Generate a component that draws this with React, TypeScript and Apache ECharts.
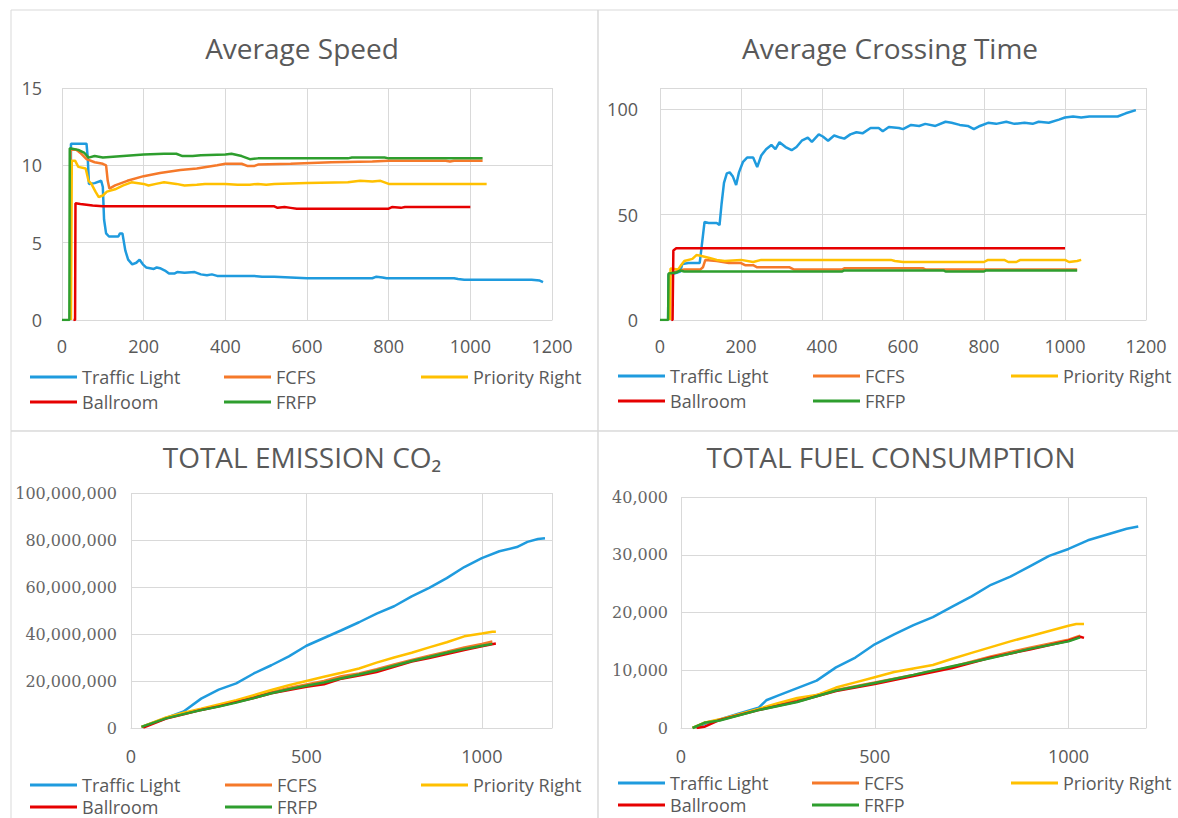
import React, { useEffect, useRef } from "react";
import * as echarts from "echarts";

// ---------- Series names & colours ----------
const seriesNames = ["Traffic Light", "FCFS", "Priority Right", "Ballroom", "FRFP"];
const seriesColors = ["#1F9BDE", "#F5792A", "#FFC000", "#E60000", "#2E9E2E"];

// ---------- Panel titles ----------
const titles = ["Average Speed", "Average Crossing Time", "TOTAL EMISSION CO\u2082", "TOTAL FUEL CONSUMPTION"];

// ---------- Average Speed ----------
const speedTraffic = [[20,0],[22,11.4],[60,11.4],[63,10.5],[66,8.8],[80,8.85],[96,9.0],[100,8.6],[103,6.5],[108,5.6],[115,5.4],[138,5.4],[142,5.6],[148,5.6],[155,4.5],[162,3.9],[172,3.6],[182,3.7],[190,3.9],[198,3.6],[206,3.4],[225,3.3],[232,3.4],[240,3.35],[252,3.2],[262,3.0],[275,3.0],[282,3.1],[300,3.05],[325,3.1],[340,2.95],[355,2.9],[367,2.95],[380,2.85],[400,2.85],[470,2.85],[490,2.8],[520,2.8],[560,2.75],[600,2.7],[700,2.7],[760,2.7],[770,2.8],[785,2.75],[795,2.7],[960,2.7],[970,2.65],[985,2.6],[1150,2.6],[1170,2.55],[1178,2.45]];
const speedFcfs = [[20,0],[21,11.0],[35,11.0],[45,10.8],[60,10.4],[80,10.2],[100,10.1],[108,10.0],[112,9.0],[116,8.5],[130,8.7],[160,9.0],[200,9.3],[240,9.5],[290,9.7],[330,9.8],[380,10.0],[400,10.1],[440,10.1],[455,9.95],[470,9.95],[480,10.05],[560,10.1],[660,10.2],[760,10.25],[800,10.3],[940,10.3],[950,10.25],[960,10.3],[1030,10.3]];
const speedPriority = [[22,0],[24,10.3],[32,10.3],[40,9.9],[58,9.8],[65,9.0],[72,8.8],[82,8.3],[90,7.95],[100,8.05],[110,8.3],[130,8.45],[150,8.7],[170,8.9],[200,8.8],[212,8.7],[230,8.8],[250,8.9],[280,8.8],[300,8.7],[330,8.75],[350,8.8],[400,8.8],[430,8.75],[460,8.75],[480,8.8],[500,8.75],[520,8.8],[600,8.85],[700,8.9],[730,9.0],[760,8.95],[780,9.0],[800,8.8],[1040,8.8]];
const speedBallroom = [[28,0],[32,0],[33,7.55],[45,7.5],[60,7.45],[75,7.4],[100,7.35],[520,7.35],[528,7.25],[545,7.3],[560,7.25],[575,7.2],[800,7.2],[808,7.3],[830,7.25],[840,7.3],[1000,7.3]];
const speedFrfp = [[0,0],[18,0],[19,11.1],[40,11.0],[55,10.8],[65,10.5],[80,10.6],[100,10.5],[150,10.6],[200,10.7],[250,10.75],[280,10.75],[295,10.6],[320,10.6],[340,10.65],[400,10.7],[415,10.75],[440,10.6],[460,10.4],[480,10.45],[700,10.45],[710,10.5],[790,10.5],[800,10.45],[1030,10.45]];

// ---------- Average Crossing Time ----------
const crossTraffic = [[20,0],[21,21.5],[35,22],[50,23],[55,26.5],[70,27],[98,27],[103,35],[110,46.5],[120,46],[140,46],[147,45],[152,55],[158,65],[165,69.5],[172,70],[180,68],[188,64],[195,70],[205,75],[215,77],[230,77],[240,72.5],[250,78],[262,81],[275,83],[285,81],[295,84.3],[310,82],[325,80.5],[337,82],[350,85],[365,86.5],[375,84.5],[392,88],[402,87],[415,85],[430,87.5],[445,86.5],[455,86],[470,88],[485,89],[500,88.5],[520,91],[540,91],[550,89.5],[565,91.5],[590,91],[600,90.5],[620,92.5],[640,92],[655,93],[680,92],[705,94],[720,93.5],[740,92.5],[760,92],[775,90.5],[790,92],[810,93.5],[830,93],[855,94],[875,93],[900,93.5],[920,93],[935,94],[960,93.5],[985,95],[1000,96],[1020,96.5],[1040,96],[1060,96.5],[1130,96.5],[1150,98],[1175,99.5]];
const crossFcfs = [[22,0],[23,22],[40,23],[60,24],[100,24],[106,25],[112,28.5],[140,28],[170,27],[200,27],[210,26],[230,26],[240,25],[320,25],[330,24],[450,24],[455,24.5],[650,24.5],[655,24],[1030,24]];
const crossPriority = [[25,0],[26,24.4],[45,24],[52,26],[60,28],[80,29],[90,30.8],[100,30.5],[120,29.5],[140,28.5],[160,28],[200,28.5],[230,27.5],[250,28.5],[570,28.5],[580,28],[600,27.5],[800,27.5],[810,28.5],[850,28.5],[860,27.5],[880,27.5],[890,28.5],[1000,28.5],[1010,27.5],[1030,28],[1040,28.5]];
const crossBallroom = [[28,0],[31,0],[33,33],[40,34],[1000,34]];
const crossFrfp = [[0,0],[20,0],[21,22],[40,22.5],[50,23.5],[60,23],[450,23],[455,23.5],[700,23.5],[705,23],[800,23],[805,23.5],[1030,23.5]];

// ---------- Total Emission CO2 ----------
const co2Traffic = [[30,0.5e6],[100,4.3e6],[150,7e6],[200,12.5e6],[250,16.3e6],[300,19e6],[350,23.2e6],[400,26.7e6],[450,30.5e6],[500,35e6],[550,38.3e6],[600,41.6e6],[650,45e6],[700,48.7e6],[750,51.8e6],[800,56e6],[850,59.6e6],[900,63.8e6],[950,68.5e6],[1000,72.3e6],[1050,75.2e6],[1100,77e6],[1130,79.2e6],[1160,80.4e6],[1180,80.7e6]];
const co2Fcfs = [[30,0.4e6],[100,4.2e6],[150,6.2e6],[200,7.8e6],[250,9.5e6],[300,11.2e6],[350,13.2e6],[400,15.2e6],[450,17e6],[500,18.5e6],[550,20e6],[600,22e6],[650,23.2e6],[700,25e6],[750,27e6],[800,29e6],[850,30.8e6],[900,32.5e6],[950,34.3e6],[1000,35.8e6],[1030,36.8e6]];
const co2Priority = [[30,0.5e6],[100,4.5e6],[150,6.5e6],[200,8.2e6],[250,10e6],[300,11.8e6],[350,14e6],[400,16.2e6],[450,18.2e6],[500,20e6],[550,21.8e6],[600,23.5e6],[650,25.3e6],[700,27.8e6],[750,30e6],[800,32e6],[850,34.3e6],[900,36.5e6],[950,39e6],[1000,40.2e6],[1030,41e6],[1040,41e6]];
const co2Ballroom = [[35,0.2e6],[100,4e6],[150,5.8e6],[200,7.7e6],[250,9.2e6],[300,11e6],[350,12.8e6],[400,14.8e6],[450,16.2e6],[500,17.5e6],[550,18.6e6],[600,21e6],[650,22.3e6],[700,23.8e6],[750,26e6],[800,28.3e6],[850,29.8e6],[900,31.5e6],[950,33.2e6],[1000,34.8e6],[1040,36e6]];
const co2Frfp = [[30,0.5e6],[100,4.1e6],[150,5.9e6],[200,7.6e6],[250,9.1e6],[300,10.8e6],[350,12.7e6],[400,14.8e6],[450,16.5e6],[500,18e6],[550,19.4e6],[600,21.2e6],[650,22.8e6],[700,24.5e6],[750,26.5e6],[800,28.5e6],[850,30.2e6],[900,32e6],[950,33.6e6],[1000,35e6],[1030,35.8e6]];

// ---------- Total Fuel Consumption ----------
const fuelTraffic = [[30,0],[60,700],[100,1500],[150,2500],[200,3500],[220,4800],[250,5600],[300,6900],[350,8200],[400,10500],[450,12200],[500,14500],[550,16200],[600,17800],[650,19200],[700,21000],[750,22800],[800,24800],[850,26200],[900,28000],[950,29800],[1000,31000],[1050,32500],[1100,33500],[1150,34500],[1180,34900]];
const fuelFcfs = [[30,0],[60,900],[100,1400],[200,3200],[300,4800],[400,6600],[500,7900],[600,9200],[700,10600],[800,12400],[900,13900],[1000,15300],[1030,16000]];
const fuelPriority = [[30,0],[60,900],[100,1500],[150,2400],[200,3300],[250,4300],[300,5200],[350,5700],[400,7000],[450,7900],[500,8800],[550,9700],[600,10300],[650,10900],[700,12000],[750,13000],[800,14000],[850,15000],[900,15900],[950,16800],[1000,17700],[1020,18000],[1040,18000]];
const fuelBallroom = [[40,0],[60,200],[100,1400],[200,3100],[300,4600],[400,6400],[500,7600],[600,9000],[700,10400],[800,12200],[900,13600],[1000,15100],[1030,15800],[1040,15600]];
const fuelFrfp = [[30,0],[60,900],[100,1300],[200,3100],[300,4500],[400,6500],[500,7800],[600,9200],[700,10700],[800,12100],[900,13700],[1000,15000],[1030,15700]];

const panelData = [
  [speedTraffic, speedFcfs, speedPriority, speedBallroom, speedFrfp],
  [crossTraffic, crossFcfs, crossPriority, crossBallroom, crossFrfp],
  [co2Traffic, co2Fcfs, co2Priority, co2Ballroom, co2Frfp],
  [fuelTraffic, fuelFcfs, fuelPriority, fuelBallroom, fuelFrfp],
];

// ---------- Axis ranges ----------
const xRanges = [
  { min: 0, max: 1200, interval: 200 },
  { min: 0, max: 1200, interval: 200 },
  { min: 0, max: 1200, interval: 500 },
  { min: 0, max: 1200, interval: 500 },
];
const yRanges = [
  { min: 0, max: 15, interval: 5 },
  { min: 0, max: 110, interval: 50 },
  { min: 0, max: 100000000, interval: 20000000 },
  { min: 0, max: 40000, interval: 10000 },
];

const GRAY = "#595959";
const GRID_LINE = "#d9d9d9";
const SANS = "Open Sans";

export default function App() {
  const ref = useRef<HTMLDivElement>(null);

  useEffect(() => {
    if (!ref.current) return;
    const chart = echarts.init(ref.current, null, { renderer: "svg" });

    const grids = [
      { left: 62, top: 88, width: 490, height: 232 },
      { left: 660, top: 88, width: 486, height: 232 },
      { left: 131, top: 493, width: 421, height: 235 },
      { left: 681, top: 497, width: 465, height: 231 },
    ];
    const yLabelMargin = [20, 22, 14, 13];
    const xLabelMargin = [17, 17, 19, 19];

    const titlePos = [
      [302, 48],
      [890, 48],
      [302, 457],
      [891, 457],
    ];

    const legendCols = [
      [30, 224, 421],
      [618, 813, 1011],
      [30, 225, 421],
      [618, 812, 1011],
    ];
    const legendRows = [
      [377, 402],
      [376, 401],
      [785, 807],
      [783, 805],
    ];
    const legendSlots = [
      [0, 0],
      [0, 1],
      [0, 2],
      [1, 0],
      [1, 1],
    ];

    const legends: any[] = [];
    for (let p = 0; p < 4; p++) {
      seriesNames.forEach((name, i) => {
        const [r, c] = legendSlots[i];
        legends.push({
          data: [name],
          left: legendCols[p][c],
          top: legendRows[p][r] - 10,
          icon: "rect",
          itemWidth: 47,
          itemHeight: 3,
          itemGap: 0,
          padding: 0,
          selectedMode: false,
          textStyle: { fontFamily: SANS, fontSize: 18, color: GRAY, lineHeight: 20 },
        });
      });
    }

    const fmtThousands = (v: number) => v.toLocaleString("en-US");

    const xAxes = grids.map((_, p) => ({
      type: "value",
      gridIndex: p,
      ...xRanges[p],
      axisLine: { show: true, onZero: false, lineStyle: { color: GRID_LINE, width: 1 } },
      axisTick: { show: false },
      splitLine: { show: true, lineStyle: { color: GRID_LINE, width: 1 } },
      axisLabel: {
        fontFamily: SANS,
        fontSize: 18,
        color: GRAY,
        margin: xLabelMargin[p],
        showMaxLabel: p < 2,
        formatter: (v: number) => String(v),
      },
    }));

    const yAxes = grids.map((_, p) => ({
      type: "value",
      gridIndex: p,
      ...yRanges[p],
      axisLine: { show: false },
      axisTick: { show: false },
      splitLine: { show: true, lineStyle: { color: GRID_LINE, width: 1 } },
      axisLabel: {
        fontFamily: p >= 2 ? "DejaVu Serif" : SANS,
        fontSize: p >= 2 ? 16 : 18,
        color: p >= 2 ? "#666666" : GRAY,
        margin: yLabelMargin[p],
        showMaxLabel: p !== 1,
        formatter: (v: number) => (p >= 2 ? fmtThousands(v) : String(v)),
      },
    }));

    const series: any[] = [];
    for (let p = 0; p < 4; p++) {
      panelData[p].forEach((data, i) => {
        series.push({
          type: "line",
          name: seriesNames[i],
          xAxisIndex: p,
          yAxisIndex: p,
          data,
          showSymbol: false,
          symbol: "none",
          color: seriesColors[i],
          lineStyle: { width: 2.5, color: seriesColors[i] },
        });
      });
    }

    const borders = [
      { x: 11, y: 10, width: 587, height: 421 },
      { x: 598, y: 10, width: 600, height: 421 },
      { x: 11, y: 431, width: 587, height: 420 },
      { x: 598, y: 431, width: 600, height: 420 },
    ];

    const graphic: any[] = [
      ...borders.map((b) => ({
        type: "rect",
        shape: b,
        silent: true,
        z: -10,
        style: { fill: "none", stroke: GRID_LINE, lineWidth: 1 },
      })),
      ...titles.map((t, p) => ({
        type: "text",
        x: titlePos[p][0],
        y: titlePos[p][1],
        silent: true,
        style: {
          text: t,
          fontFamily: SANS,
          fontSize: 28,
          fill: GRAY,
          align: "center",
          verticalAlign: "middle",
        },
      })),
    ];

    chart.setOption({
      animation: false,
      backgroundColor: "#ffffff",
      grid: grids,
      xAxis: xAxes,
      yAxis: yAxes,
      legend: legends,
      series,
      graphic,
    });

    return () => chart.dispose();
  }, []);

  return (
    <div
      ref={ref}
      style={{ position: "fixed", left: 0, top: 0, width: 1178, height: 818, background: "#fff" }}
    />
  );
}
